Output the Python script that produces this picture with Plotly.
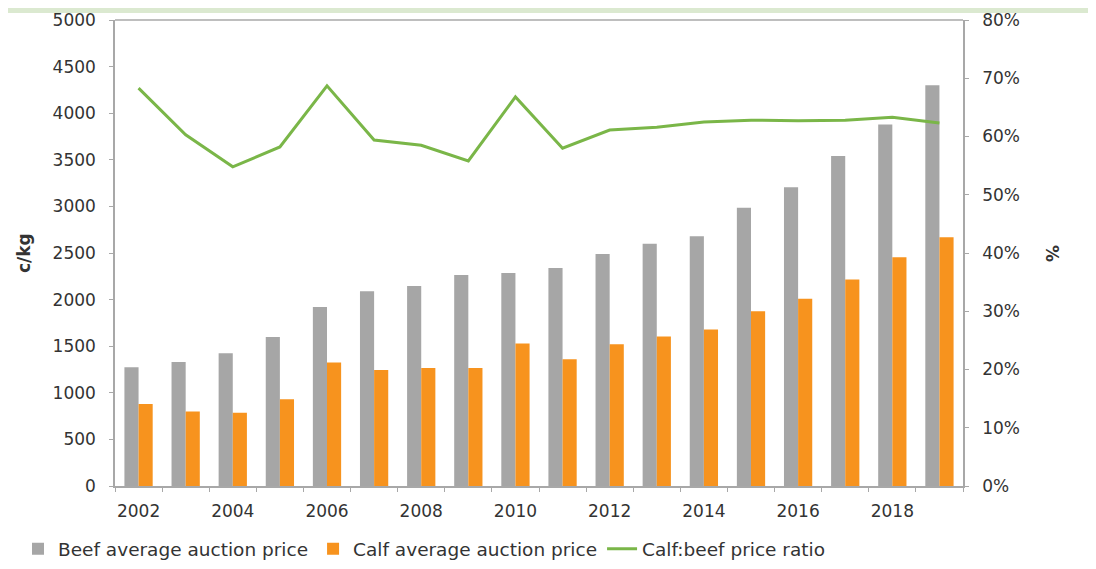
import plotly.graph_objects as go

years = list(range(2002, 2020))
beef = [1275, 1330, 1425, 1600, 1920, 2090, 2145, 2265, 2285, 2340, 2490, 2600, 2680, 2985, 3205, 3540, 3880, 4300]
calf = [880, 800, 785, 930, 1325, 1245, 1265, 1265, 1530, 1360, 1520, 1605, 1680, 1875, 2010, 2215, 2455, 2670]
ratio = [68.3, 60.3, 54.8, 58.2, 68.7, 59.4, 58.5, 55.8, 66.8, 58.0, 61.1, 61.6, 62.5, 62.8, 62.7, 62.8, 63.3, 62.3]

left_ticks = list(range(0, 5001, 500))
right_ticks = list(range(0, 81, 10))
x_ticks = list(range(2002, 2019, 2))

TXT = "#333333"
AX = "#a8a8a8"
FONT = "DejaVu Sans"
FS = 17

W, H = 1080, 553
L, R, T, B = 107, 125, 12, 75
PW = W - L - R  # 848
PH = H - T - B  # 466

fig = go.Figure()
fig.add_trace(go.Bar(x=years, y=beef, name="Beef average auction price",
                     marker=dict(color="#a6a6a6", line=dict(width=0))))
fig.add_trace(go.Bar(x=years, y=calf, name="Calf average auction price",
                     marker=dict(color="#f7931e", line=dict(width=0))))
fig.add_trace(go.Scatter(x=years, y=ratio, name="Calf:beef price ratio", yaxis="y2",
                         mode="lines", line=dict(color="#7ab648", width=3)))

fig.update_layout(
    width=W, height=H,
    margin=dict(l=L, r=R, t=T, b=B, autoexpand=False),
    paper_bgcolor="white", plot_bgcolor="white",
    font=dict(family=FONT, size=FS, color=TXT),
    barmode="group", bargap=0.4, bargroupgap=0,
    showlegend=True,
    legend=dict(orientation="h", x=(10 - L) / PW, y=-0.095, xanchor="left", yanchor="top",
                font=dict(size=18.5, color=TXT), traceorder="normal",
                bgcolor="rgba(0,0,0,0)"),
    xaxis=dict(range=[2001.5, 2019.5], tickmode="array", tickvals=x_ticks,
               ticktext=[str(v) for v in x_ticks], ticks="", showgrid=False,
               showline=True, linecolor=AX, linewidth=1.5, zeroline=False,
               tickfont=dict(size=FS, color=TXT), ticklabelstandoff=9,
               minor=dict(tickmode="array", tickvals=[y + 0.5 for y in range(2001, 2020)],
                          ticks="outside", ticklen=4, tickcolor=AX, showgrid=False)),
    yaxis=dict(range=[0, 5000], tickvals=left_ticks, showgrid=False, zeroline=False,
               showline=True, linecolor=AX, linewidth=1.5, ticks="outside", ticklen=4,
               tickcolor=AX, tickfont=dict(size=FS, color=TXT), ticklabelstandoff=10,
               automargin=False),
    yaxis2=dict(range=[0, 80], tickvals=right_ticks, ticktext=[f"{v}%" for v in right_ticks],
                overlaying="y", side="right", showgrid=False, zeroline=False,
                showline=True, linecolor=AX, linewidth=1.5, ticks="outside", ticklen=4,
                tickcolor=AX, tickfont=dict(size=FS, color=TXT), ticklabelstandoff=10,
                automargin=False),
)

# top border of plot area
fig.add_shape(type="line", xref="paper", yref="paper", x0=0, x1=1, y0=1, y1=1,
              line=dict(color=AX, width=1.5))
# light green band at top of image
fig.add_shape(type="rect", xref="paper", yref="paper",
              x0=-L / PW, x1=(W - L) / PW, y0=(PH + T - 5) / PH, y1=(PH + T) / PH,
              fillcolor="#dbe9d0", line=dict(width=0), layer="below")
# axis titles
fig.add_annotation(text="<b>c/kg</b>", xref="paper", yref="paper", x=(24 - 8 - L) / PW, y=0.5,
                   xanchor="center", yanchor="middle",
                   showarrow=False, textangle=-90, font=dict(size=FS, color=TXT))
fig.add_annotation(text="<b>%</b>", xref="paper", yref="paper", x=(1052 - 8 - L) / PW, y=0.5,
                   xanchor="center", yanchor="middle",
                   showarrow=False, textangle=90, font=dict(size=FS, color=TXT))

fig.write_html("out.html")
